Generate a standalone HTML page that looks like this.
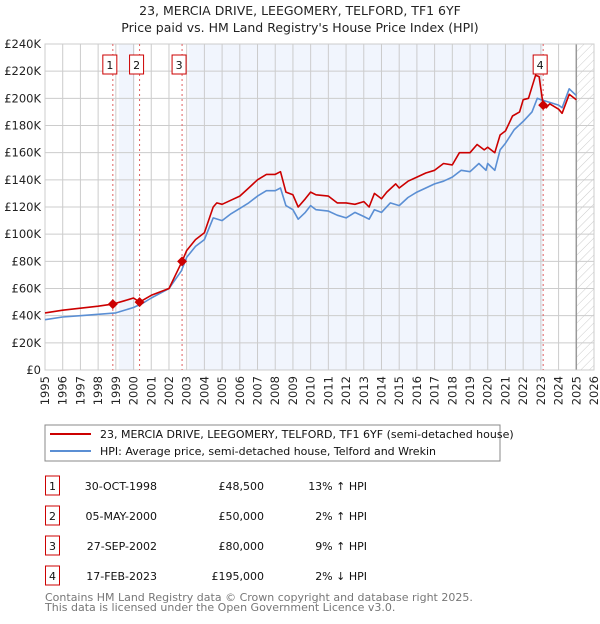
<!DOCTYPE html>
<html><head><meta charset="utf-8"><style>
body{margin:0;background:#fff;font-family:"DejaVu Sans","Liberation Sans",sans-serif;}
svg text{font-family:"DejaVu Sans","Liberation Sans",sans-serif;}
</style></head><body>
<svg id="chart" width="600" height="620" xmlns="http://www.w3.org/2000/svg">
<defs><pattern id="hatch" width="6" height="6" patternUnits="userSpaceOnUse" patternTransform="rotate(45)"><line x1="0" y1="0" x2="0" y2="6" stroke="#ccc" stroke-width="1"/></pattern></defs>
<text x="300" y="15" text-anchor="middle" font-size="12.5" fill="#222">23, MERCIA DRIVE, LEEGOMERY, TELFORD, TF1 6YF</text>
<text x="300" y="32" text-anchor="middle" font-size="12.5" fill="#222">Price paid vs. HM Land Registry's House Price Index (HPI)</text>
<g id="plot"></g>
<rect x="45" y="425" width="455" height="36" fill="#fff" stroke="#888"/>
<line x1="50" y1="434" x2="91" y2="434" stroke="#cc0000" stroke-width="2"/>
<text x="100" y="438" font-size="11" fill="#111">23, MERCIA DRIVE, LEEGOMERY, TELFORD, TF1 6YF (semi-detached house)</text>
<line x1="50" y1="451" x2="91" y2="451" stroke="#5b8fd4" stroke-width="2"/>
<text x="100" y="455" font-size="11" fill="#111">HPI: Average price, semi-detached house, Telford and Wrekin</text>
<g id="table" font-size="11" fill="#111"></g>
<text x="45" y="601" font-size="11" fill="#777">Contains HM Land Registry data © Crown copyright and database right 2025.</text>
<text x="45" y="611" font-size="11" fill="#777">This data is licensed under the Open Government Licence v3.0.</text>
</svg>
<script>
const hpiYears=[1995,1996,1997,1998,1999,2000,2000.5,2001,2002,2002.7,2003,2003.5,2004,2004.5,2005,2005.5,2006,2006.5,2007,2007.5,2008,2008.3,2008.6,2009,2009.3,2009.7,2010,2010.3,2011,2011.5,2012,2012.5,2013,2013.3,2013.6,2014,2014.5,2015,2015.5,2016,2016.5,2017,2017.5,2018,2018.5,2019,2019.5,2019.9,2020,2020.4,2020.7,2021,2021.5,2022,2022.5,2022.8,2023,2023.5,2024,2024.2,2024.6,2025];
const hpiValues=[37,39,40,41,42,46,49,53,60,73,83,91,96,112,110,115,119,123,128,132,132,134,121,118,111,116,121,118,117,114,112,116,113,111,118,116,123,121,127,131,134,137,139,142,147,146,152,147,152,147,162,167,177,183,190,200,199,197,195,193,207,202];
const propYears=[1995,1996,1997,1998,1998.83,1999.5,2000,2000.34,2001,2002,2002.74,2003,2003.5,2004,2004.5,2004.7,2005,2005.5,2006,2006.5,2007,2007.5,2008,2008.3,2008.6,2009,2009.3,2009.7,2010,2010.3,2011,2011.5,2012,2012.5,2013,2013.3,2013.6,2014,2014.3,2014.8,2015,2015.5,2016,2016.5,2017,2017.5,2018,2018.4,2019,2019.4,2019.8,2020,2020.4,2020.7,2021,2021.4,2021.8,2022,2022.3,2022.7,2022.9,2023.13,2023.3,2023.5,2024,2024.2,2024.6,2025];
const propValues=[42,44,45.5,47,48.5,51,53,50,55,60,80,88,96,101,120,123,122,125,128,134,140,144,144,146,131,129,120,126,131,129,128,123,123,122,124,120,130,126,131,137,134,139,142,145,147,152,151,160,160,166,162,164,160,173,176,187,190,199,200,217,216,195,193,196,192,189,203,199];
const yTicks=[0,20,40,60,80,100,120,140,160,180,200,220,240];
const xTicks=[1995,1996,1997,1998,1999,2000,2001,2002,2003,2004,2005,2006,2007,2008,2009,2010,2011,2012,2013,2014,2015,2016,2017,2018,2019,2020,2021,2022,2023,2024,2025,2026];
const saleLabels=["1","2","3","4"];
const saleYears=[1998.83,2000.34,2002.74,2023.13];
const saleValues=[48.5,50,80,195];
const saleDates=["30-OCT-1998","05-MAY-2000","27-SEP-2002","17-FEB-2023"];
const salePrices=["£48,500","£50,000","£80,000","£195,000"];
const saleHpi=["13% ↑ HPI","2% ↑ HPI","9% ↑ HPI","2% ↓ HPI"];
const X0=45,X1=594,Y0=370,Y1=44;
const xs=y=>X0+(y-1995)/(2026-1995)*(X1-X0);
const ys=v=>Y0-v/240*(Y0-Y1);
const NS="http://www.w3.org/2000/svg";
const plot=document.getElementById('plot');
function mk(tag,attrs,parent){const e=document.createElementNS(NS,tag);for(const k in attrs)e.setAttribute(k,attrs[k]);(parent||plot).appendChild(e);return e;}
let e;
e=mk('rect',{x:X0,y:Y1,width:X1-X0,height:Y0-Y1,fill:'#fff'});


e=mk('rect',{x:xs(1999.17),y:Y1,width:xs(2000.07)-xs(1999.17),height:Y0-Y1,fill:'#f1f5fd'});


e=mk('rect',{x:xs(2003.1),y:Y1,width:xs(2023.13)-xs(2003.1),height:Y0-Y1,fill:'#f1f5fd'});


e=mk('rect',{x:xs(2025),y:Y1,width:X1-xs(2025),height:Y0-Y1,fill:'url(#hatch)'});


xTicks.forEach(t=>{
 e=mk('line',{x1:xs(t),x2:xs(t),y1:Y1,y2:Y0,stroke:'#ccc','stroke-width':1});
 
 
 const tx=xs(t)+4,ty=Y0+6;
 e=mk('text',{x:tx,y:ty,'text-anchor':'end','font-size':11.5,fill:'#222',transform:`rotate(-90 ${tx} ${ty})`});
 e.textContent=t;
 
 
});
yTicks.forEach(t=>{
 e=mk('line',{x1:X0,x2:X1,y1:ys(t),y2:ys(t),stroke:'#ccc','stroke-width':1});
 
 
 e=mk('text',{x:X0-4,y:ys(t)+4,'text-anchor':'end','font-size':11.5,fill:'#222'});
 e.textContent=t===0?'£0':'£'+t+'K';
 
 
});
e=mk('line',{x1:xs(2025),x2:xs(2025),y1:Y1,y2:Y0,stroke:'#999','stroke-width':1.5});


e=mk('rect',{x:X0,y:Y1,width:X1-X0,height:Y0-Y1,fill:'none',stroke:'#ccc'});


saleYears.forEach((s,i)=>{
 e=mk('line',{x1:xs(s),x2:xs(s),y1:Y1,y2:Y0,stroke:'#e06060','stroke-width':1,'stroke-dasharray':'2,3'});
 
 
});
function path(xa,va,col,name){
 const d=xa.map((x,i)=>(i?'L':'M')+xs(x).toFixed(1)+','+ys(va[i]).toFixed(1)).join('');
 const p=mk('path',{d:d,fill:'none',stroke:col,'stroke-width':1.6,'stroke-linejoin':'round'});
 
 
}
path(hpiYears,hpiValues,'#5b8fd4','hpi-line');
path(propYears,propValues,'#cc0000','property-price-line');
saleYears.forEach((s,i)=>{
 const cx=xs(s),cy=ys(saleValues[i]);
 e=mk('path',{d:`M${cx},${cy-5}L${cx+5},${cy}L${cx},${cy+5}L${cx-5},${cy}Z`,fill:'#cc0000'});
 
 
 e=mk('rect',{x:cx-10,y:55,width:14,height:19,fill:'#fff',stroke:'#cc0000'});
 
 
 e=mk('text',{x:cx-3,y:69,'text-anchor':'middle','font-size':11,fill:'#111'});
 e.textContent=saleLabels[i];
 
 
});
const tb=document.getElementById('table');
saleLabels.forEach((l,i)=>{
 const y=476+i*30;
 e=mk('rect',{x:45.5,y:y,width:14,height:19,fill:'#fff',stroke:'#cc0000'},tb);
 
 
 e=mk('text',{x:52.5,y:y+14,'text-anchor':'middle'},tb);e.textContent=l;
 
 
 e=mk('text',{x:157,y:y+14,'text-anchor':'end'},tb);e.textContent=saleDates[i];
 
 
 e=mk('text',{x:264,y:y+14,'text-anchor':'end'},tb);e.textContent=salePrices[i];
 
 
 e=mk('text',{x:367,y:y+14,'text-anchor':'end'},tb);e.textContent=saleHpi[i];
 
 
});
</script>
</body></html>
